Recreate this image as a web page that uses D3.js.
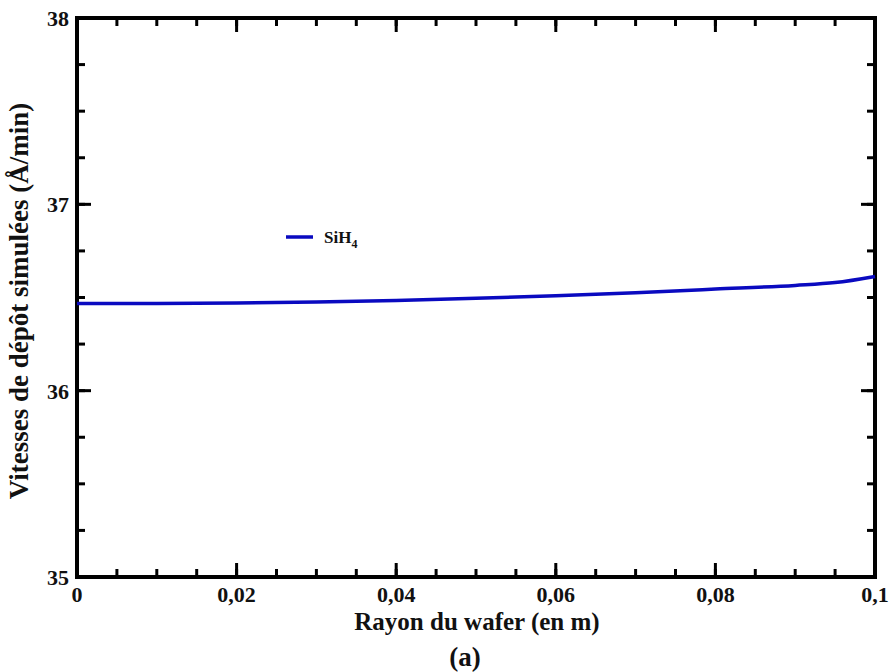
<!DOCTYPE html>
<html><head><meta charset="utf-8">
<script src="https://cdn.jsdelivr.net/npm/d3@7/dist/d3.min.js"></script>
<style>
body{margin:0;background:#fff;}
</style></head>
<body><svg id="c" width="890" height="672"></svg>
<script>
const radius = [0, 0.01, 0.02, 0.03, 0.04, 0.05, 0.06, 0.07, 0.08, 0.09, 0.095, 0.1];
const sih4 = [36.468, 36.468, 36.470, 36.476, 36.484, 36.496, 36.510, 36.526, 36.545, 36.565, 36.580, 36.613];
const xTicks = [0, 0.02, 0.04, 0.06, 0.08, 0.1];
const xTickLabels = ["0", "0,02", "0,04", "0,06", "0,08", "0,1"];
const yTicks = [35, 36, 37, 38];
const yTickLabels = ["35", "36", "37", "38"];
const seriesName = "SiH";
const seriesSub = "4";

const FONT = "Liberation Serif";
const svg = d3.select("#c");
const L = 77, R = 875, T = 18, B = 577;
const x = d3.scaleLinear().domain([0, 0.1]).range([L, R]);
const y = d3.scaleLinear().domain([35, 38]).range([B, T]);

const xMinor = d3.range(0, 0.1001, 0.005);
const yMinor = d3.range(35, 38.001, 0.25);

const txt = (sel) => sel.append("text").attr("font-family", FONT).attr("font-weight", "bold").attr("fill", "#111");

const g = svg.append("g");
const tk = (arr, isX, len) => {
  arr.forEach(v => {
    if (isX) {
      g.append("line").attr("x1", x(v)).attr("x2", x(v)).attr("y1", B).attr("y2", B - len).attr("stroke", "#000").attr("stroke-width", 3);
      g.append("line").attr("x1", x(v)).attr("x2", x(v)).attr("y1", T).attr("y2", T + len).attr("stroke", "#000").attr("stroke-width", 3);
    } else {
      g.append("line").attr("y1", y(v)).attr("y2", y(v)).attr("x1", L).attr("x2", L + len).attr("stroke", "#000").attr("stroke-width", 3);
      g.append("line").attr("y1", y(v)).attr("y2", y(v)).attr("x1", R).attr("x2", R - len).attr("stroke", "#000").attr("stroke-width", 3);
    }
  });
};
tk(xMinor, true, 8);
tk(xTicks, true, 14);
tk(yMinor, false, 8);
tk(yTicks, false, 14);

svg.append("rect").attr("x", L).attr("y", T).attr("width", R - L).attr("height", B - T)
  .attr("fill", "none").attr("stroke", "#000").attr("stroke-width", 4);

xTicks.forEach((v, i) => {
  txt(svg).attr("x", x(v)).attr("y", B + 25).attr("text-anchor", "middle")
    .attr("font-size", 22).text(xTickLabels[i]);
});
yTicks.forEach((v, i) => {
  txt(svg).attr("x", L - 8).attr("y", y(v) + 8).attr("text-anchor", "end")
    .attr("font-size", 22).text(yTickLabels[i]);
});

const line = d3.line().x((d, i) => x(radius[i])).y(d => y(d)).curve(d3.curveMonotoneX);
svg.append("path").datum(sih4).attr("d", line).attr("fill", "none")
  .attr("stroke", "#0a0ac0").attr("stroke-width", 3.5);

svg.append("line").attr("x1", 286).attr("x2", 313).attr("y1", 237).attr("y2", 237)
  .attr("stroke", "#0a0ac0").attr("stroke-width", 3.5);
const lt = txt(svg).attr("x", 324).attr("y", 243).attr("font-size", 17);
lt.append("tspan").text(seriesName);
lt.append("tspan").attr("dy", 5).attr("font-size", 12).text(seriesSub);

txt(svg).attr("x", 477).attr("y", 630).attr("text-anchor", "middle")
  .attr("font-size", 25).text("Rayon du wafer (en m)");
txt(svg).attr("transform", "translate(28,301) rotate(-90)").attr("text-anchor", "middle")
  .attr("font-size", 27).text("Vitesses de dépôt simulées (Å/min)");
txt(svg).attr("x", 465).attr("y", 666).attr("text-anchor", "middle")
  .attr("font-size", 27).text("(a)");
</script></body></html>
